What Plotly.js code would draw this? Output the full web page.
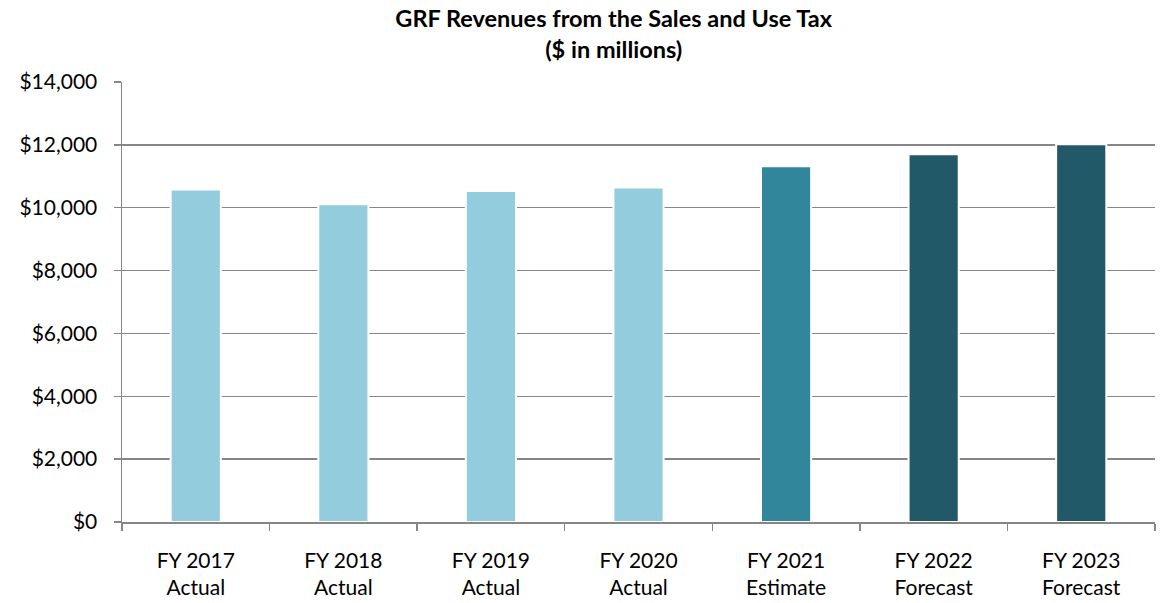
<!DOCTYPE html>
<html>
<head>
<meta charset="utf-8">
<script src="https://cdn.plot.ly/plotly-3.0.1.min.js"></script>
<style>html,body{margin:0;padding:0;background:#fff;}#chart{width:1163px;height:603px;}</style>
</head>
<body>
<div id="chart"></div>
<script>
const categories = ["FY 2017<br>Actual","FY 2018<br>Actual","FY 2019<br>Actual","FY 2020<br>Actual","FY 2021<br>Estimate","FY 2022<br>Forecast","FY 2023<br>Forecast"];
const revenues = [10580, 10110, 10530, 10640, 11320, 11700, 12020];
const barColors = ["#93CDDD","#93CDDD","#93CDDD","#93CDDD","#31869B","#215968","#215968"];
const yTickVals = [0,2000,4000,6000,8000,10000,12000,14000];
const yTickText = ["$0","$2,000","$4,000","$6,000","$8,000","$10,000","$12,000","$14,000"];

const font = "Lato, 'Open Sans', 'Liberation Sans', sans-serif";
Plotly.newPlot("chart", [{
  type: "bar",
  x: categories,
  y: revenues,
  width: 0.34,
  marker: {color: barColors, line: {color: "#ffffff", width: 2}},
  hoverinfo: "none"
}], {
  width: 1163, height: 603,
  margin: {l: 122, r: 8, t: 82, b: 81},
  paper_bgcolor: "#fff", plot_bgcolor: "#fff",
  showlegend: false,
  title: {text: "<b>GRF Revenues from the Sales and Use Tax<br>($ in millions)</b>", x: 0.476, xanchor: "center", xref: "paper", yref: "container", y: 0.955, yanchor: "top", font: {family: font, size: 23.5, color: "#000"}},
  xaxis: {
    type: "category", tickson: "boundaries", ticks: "outside", ticklen: 7, tickwidth: 1.5, tickcolor: "#868686",
    showline: true, linecolor: "#868686", linewidth: 1.5, showgrid: false,
    ticklabelstandoff: 19,
    tickfont: {family: font, size: 21, color: "#000"}, fixedrange: true
  },
  yaxis: {
    range: [0, 14000], tickvals: yTickVals, ticktext: yTickText,
    ticks: "outside", ticklen: 7, tickwidth: 1.5, tickcolor: "#868686",
    showline: true, linecolor: "#868686", linewidth: 1.5,
    showgrid: true, gridcolor: "#868686", gridwidth: 1.5, zeroline: false,
    ticklabelstandoff: 12,
    tickfont: {family: font, size: 21, color: "#000"}, fixedrange: true
  },
  bargap: 0.66
}, {displayModeBar: false, staticPlot: true});
</script>
</body>
</html>
